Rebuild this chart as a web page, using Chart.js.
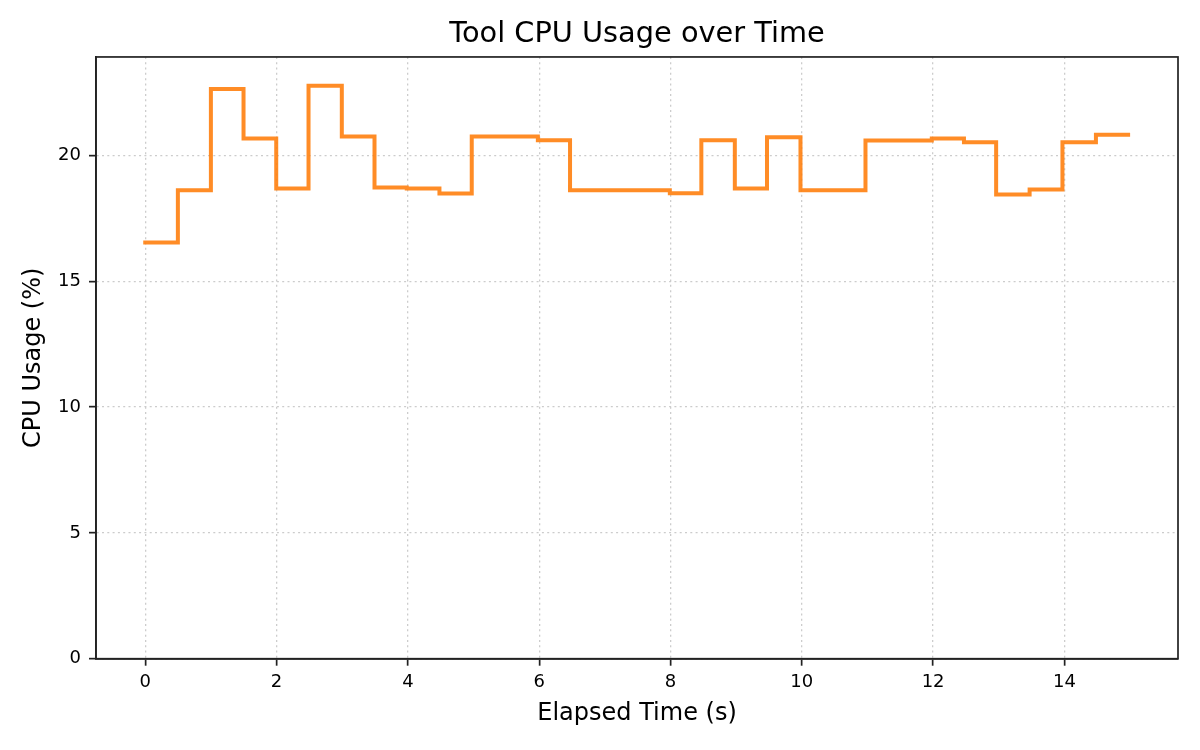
<!DOCTYPE html>
<html>
<head>
<meta charset="utf-8">
<script src="https://cdn.jsdelivr.net/npm/chart.js@4/dist/chart.umd.min.js"></script>
<style>
  html, body { margin: 0; padding: 0; background: #ffffff; }
  #wrap { width: 1200px; height: 750px; }
</style>
</head>
<body>
<div id="wrap"><canvas id="c" width="1200" height="750"></canvas></div>
<script>
// ---- Data ----
const times = [0, 0.497, 1.0, 1.497, 1.995, 2.487, 2.994, 3.492, 3.983, 4.481,
               4.973, 5.47, 5.98, 6.47, 6.97, 7.48, 7.99, 8.47, 8.98, 9.47,
               9.98, 10.48, 10.97, 11.48, 11.98, 12.47, 12.96, 13.47, 13.97, 14.48, 14.97];
const cpuUsage = [16.54, 18.62, 22.65, 20.68, 18.69, 22.78, 20.76, 18.73, 18.69, 18.49,
                  20.76, 20.76, 20.61, 18.62, 18.62, 18.62, 18.50, 20.61, 18.69, 20.73,
                  18.62, 18.62, 20.60, 20.60, 20.68, 20.53, 18.45, 18.65, 20.53, 20.83, 20.83];
const xTickValues = [0, 2, 4, 6, 8, 10, 12, 14];
const yTickValues = [0, 5, 10, 15, 20];
const titleText = 'Tool CPU Usage over Time';
const xLabel = 'Elapsed Time (s)';
const yLabel = 'CPU Usage (%)';

// ---- Chart ----
Chart.defaults.font.family = "'DejaVu Sans', 'Liberation Sans', sans-serif";
Chart.defaults.color = '#000000';

const points = times.map((t, i) => ({ x: t, y: cpuUsage[i] }));

const boxPlugin = {
  id: 'boxPlugin',
  afterDraw(chart) {
    const { ctx, chartArea: a } = chart;
    ctx.save();
    ctx.strokeStyle = '#222222';
    ctx.lineWidth = 1.7;
    ctx.setLineDash([]);
    ctx.strokeRect(a.left, a.top, a.right - a.left, a.bottom - a.top);
    ctx.restore();
  }
};

new Chart(document.getElementById('c'), {
  type: 'line',
  data: {
    datasets: [{
      data: points,
      borderColor: 'rgba(255,127,14,0.9)',
      borderWidth: 4,
      pointRadius: 0,
      pointHoverRadius: 0,
      stepped: 'before',
      tension: 0,
      fill: false,
      borderCapStyle: 'square',
      borderJoinStyle: 'miter',
      clip: false
    }]
  },
  plugins: [boxPlugin],
  options: {
    responsive: false,
    animation: false,
    devicePixelRatio: 1,
    events: [],
    layout: { padding: { left: 0, right: 22, top: 0, bottom: 0 } },
    plugins: {
      legend: { display: false },
      tooltip: { enabled: false },
      title: {
        display: true,
        text: titleText,
        fullSize: false,
        color: '#000000',
        font: { size: 28.8, weight: 'normal' },
        padding: { top: 17.5, bottom: 4.9 }
      }
    },
    scales: {
      x: {
        type: 'linear',
        min: -0.75,
        max: 15.73,
        afterBuildTicks(scale) { scale.ticks = xTickValues.map(v => ({ value: v })); },
        afterFit(scale) { scale.height = 91.3; },
        ticks: {
          font: { size: 18 },
          color: '#000000',
          padding: 6,
          maxRotation: 0,
          autoSkip: false
        },
        grid: {
          color: '#cccccc',
          lineWidth: 1.3,
          drawTicks: true,
          tickLength: 7,
          tickColor: '#222222',
          tickWidth: 1.7
        },
        border: { display: true, color: '#222222', width: 1.7, dash: [2, 3.3] },
        title: {
          display: true,
          text: xLabel,
          color: '#000000',
          font: { size: 24 },
          padding: { top: 0, bottom: 21.6 }
        }
      },
      y: {
        type: 'linear',
        min: 0,
        max: 23.92,
        afterBuildTicks(scale) { scale.ticks = yTickValues.map(v => ({ value: v })); },
        afterFit(scale) { scale.width = 96; },
        ticks: {
          font: { size: 18 },
          color: '#000000',
          padding: 8,
          autoSkip: false
        },
        grid: {
          color: '#cccccc',
          lineWidth: 1.3,
          drawTicks: true,
          tickLength: 7,
          tickColor: '#222222',
          tickWidth: 1.7
        },
        border: { display: true, color: '#222222', width: 1.7, dash: [2, 3.3] },
        title: {
          display: true,
          text: yLabel,
          color: '#000000',
          font: { size: 24 },
          padding: { top: 19.8, bottom: 0 }
        }
      }
    }
  }
});
</script>
</body>
</html>
